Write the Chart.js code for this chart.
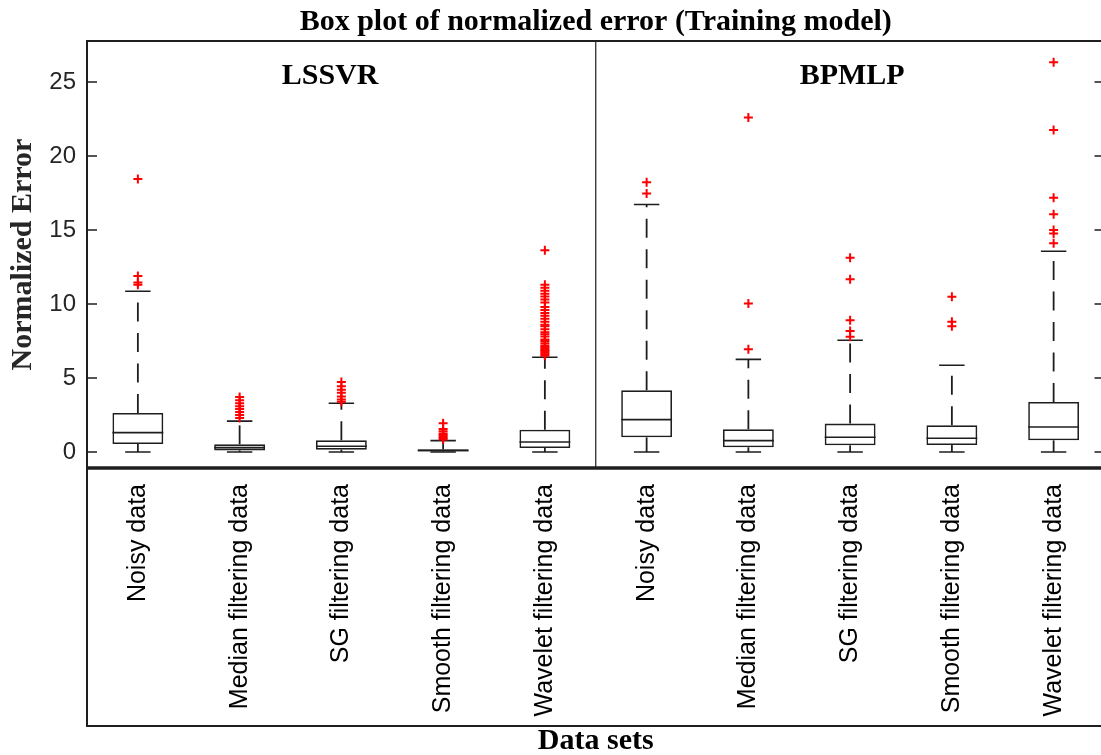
<!DOCTYPE html>
<html>
<head>
<meta charset="utf-8">
<title>Box plot of normalized error</title>
<script src="https://cdn.jsdelivr.net/npm/chart.js@4.4.1/dist/chart.umd.min.js"></script>
<style>
  html, body { margin: 0; padding: 0; background: #fff; overflow: hidden; }
  #wrap { width: 1111px; height: 755px; }
</style>
</head>
<body>
<div id="wrap"><canvas id="box-chart" width="1111" height="755"></canvas></div>
<script>
/* ========= Data ========= */
const categories = [
  'Noisy data', 'Median filtering data', 'SG filtering data', 'Smooth filtering data', 'Wavelet filtering data',
  'Noisy data', 'Median filtering data', 'SG filtering data', 'Smooth filtering data', 'Wavelet filtering data'
];
const modelNames  = ['LSSVR', 'BPMLP'];
const whiskerLow  = [0, 0, 0, 0, 0, 0, 0, 0, 0, 0];
const q1          = [0.54, 0.11, 0.16, 0.03, 0.27, 0.99, 0.32, 0.45, 0.47, 0.79];
const medians     = [1.31, 0.30, 0.39, 0.10, 0.68, 2.19, 0.77, 1.00, 0.93, 1.69];
const q3          = [2.64, 0.52, 0.79, 0.18, 1.51, 4.17, 1.53, 1.92, 1.80, 3.38];
const whiskerHigh = [10.86, 2.09, 3.29, 0.77, 6.40, 16.72, 6.26, 7.55, 5.86, 13.56];
const outliers = [
  [11.3, 11.45, 11.9, 18.45],
  [2.3, 2.5, 2.7, 2.9, 3.1, 3.3, 3.5, 3.72],
  [3.4, 3.55, 3.75, 4.0, 4.2, 4.45, 4.73],
  [0.85, 0.95, 1.05, 1.15, 1.25, 1.4, 1.55, 1.95],
  [6.5, 6.6, 6.7, 6.8, 6.9, 7.0, 7.1, 7.2, 7.35, 7.5, 7.6, 7.8, 7.95, 8.1, 8.3, 8.5,
   8.6, 8.8, 9.0, 9.2, 9.4, 9.6, 9.8, 10.1, 10.3, 10.5, 10.7, 10.9, 11.1, 11.3, 13.63],
  [17.46, 18.22],
  [6.94, 10.03, 22.6],
  [7.79, 8.18, 8.9, 11.67, 13.13],
  [8.5, 8.8, 10.49],
  [14.1, 14.77, 15.0, 16.06, 17.18, 21.76, 26.33]
];
const yTicks = [0, 5, 10, 15, 20, 25];

const outlierPoints = outliers.flatMap((vals, i) => vals.map(v => ({ x: i, y: v })));

/* ========= Plugins ========= */
// whiskers, caps and median lines, drawn right after the boxes
const boxParts = {
  id: 'boxParts',
  afterDatasetDraw(chart, args) {
    if (args.index !== 0) return;
    const { ctx } = chart;
    const x = chart.scales.x, y = chart.scales.y;
    const bars = args.meta.data;
    ctx.save();
    ctx.strokeStyle = '#1e1e1e';
    categories.forEach((_, i) => {
      const cx = x.getPixelForValue(i);
      const half = bars[i].width / 2;
      const cap = half / 2;
      const yQ1 = y.getPixelForValue(q1[i]), yQ3 = y.getPixelForValue(q3[i]);
      const yLo = y.getPixelForValue(whiskerLow[i]), yHi = y.getPixelForValue(whiskerHigh[i]);

      // dashed whiskers, starting from the box
      ctx.lineWidth = 1.8;
      ctx.setLineDash([19, 11.5]);
      ctx.beginPath(); ctx.moveTo(cx, yQ3); ctx.lineTo(cx, yHi); ctx.stroke();
      ctx.beginPath(); ctx.moveTo(cx, yQ1); ctx.lineTo(cx, yLo); ctx.stroke();
      ctx.setLineDash([]);

      // caps
      ctx.lineWidth = 1.6;
      ctx.beginPath();
      ctx.moveTo(cx - cap, yHi); ctx.lineTo(cx + cap, yHi);
      ctx.moveTo(cx - cap, yLo); ctx.lineTo(cx + cap, yLo);
      ctx.stroke();

      // median
      const ym = y.getPixelForValue(medians[i]);
      ctx.beginPath(); ctx.moveTo(cx - half, ym); ctx.lineTo(cx + half, ym); ctx.stroke();
    });
    ctx.restore();
  }
};

// axes frame, inward ticks, panel divider and model names
const frame = {
  id: 'frame',
  afterDraw(chart, args, opts) {
    const { ctx, chartArea: a } = chart;
    const y = chart.scales.y, xv = chart.scales.xv;
    const bottom = chart.scales.x.bottom - 29;
    ctx.save();
    ctx.strokeStyle = '#1e1e1e';

    ctx.lineWidth = 2;
    ctx.strokeRect(a.left, a.top, a.right - a.left, bottom - a.top);
    ctx.lineWidth = 3.5;
    ctx.beginPath(); ctx.moveTo(a.left, a.bottom); ctx.lineTo(a.right, a.bottom); ctx.stroke();

    const xd = xv.getPixelForValue(4.5);
    ctx.lineWidth = 1.2;
    ctx.beginPath(); ctx.moveTo(xd, a.top); ctx.lineTo(xd, a.bottom); ctx.stroke();

    ctx.lineWidth = 1.6;
    yTicks.forEach(v => {
      const py = y.getPixelForValue(v);
      ctx.beginPath();
      ctx.moveTo(a.left, py); ctx.lineTo(a.left + 10, py);
      ctx.moveTo(a.right - 10, py); ctx.lineTo(a.right, py);
      ctx.stroke();
    });

    ctx.fillStyle = '#000';
    ctx.font = 'bold 30px "Liberation Serif", "Times New Roman", serif';
    ctx.textAlign = 'center';
    ctx.textBaseline = 'alphabetic';
    modelNames.forEach((name, k) => {
      ctx.fillText(name, xv.getPixelForValue(opts.labelX[k]), y.getPixelForValue(opts.labelY));
    });
    ctx.restore();
  }
};

/* ========= Chart ========= */
const serif = '"Liberation Serif", "Times New Roman", serif';
const sans  = '"Liberation Sans", Arial, sans-serif';

new Chart(document.getElementById('box-chart'), {
  type: 'bar',
  data: {
    labels: categories,
    datasets: [{
      type: 'bar',
      label: 'Box',
      data: q1.map((v, i) => [v, q3[i]]),
      backgroundColor: 'rgba(255,255,255,0)',
      borderColor: '#1e1e1e',
      borderWidth: 1.6,
      borderSkipped: false,
      grouped: false,
      barPercentage: 0.5,
      categoryPercentage: 1,
      xAxisID: 'x',
      yAxisID: 'y',
      order: 2
    }, {
      type: 'scatter',
      label: 'Outliers',
      data: outlierPoints,
      xAxisID: 'xv',
      yAxisID: 'y',
      pointStyle: 'cross',
      pointRadius: 4.5,
      borderColor: '#ff0000',
      borderWidth: 2,
      order: 1
    }]
  },
  options: {
    responsive: false,
    animation: false,
    devicePixelRatio: 1,
    layout: { padding: { left: 0, right: 2, top: 0, bottom: 0 } },
    plugins: {
      legend: { display: false },
      tooltip: { enabled: false },
      title: {
        display: true,
        text: 'Box plot of normalized error (Training model)',
        fullSize: false,
        color: '#000',
        font: { family: serif, size: 30, weight: 'bold', lineHeight: 1.2 },
        padding: { top: 4, bottom: 1 }
      },
      frame: { labelX: [1.89, 7.02], labelY: 24.86 }
    },
    scales: {
      x: {
        type: 'category',
        grid: { display: false, drawTicks: false, tickLength: 0 },
        border: { display: false },
        ticks: {
          autoSkip: false, minRotation: 90, maxRotation: 90,
          color: '#000', padding: 16,
          font: { family: sans, size: 25 }
        },
        title: {
          display: true, text: 'Data sets', color: '#000',
          font: { family: serif, size: 30, weight: 'bold', lineHeight: 0.93 },
          padding: 0
        },
        afterFit: s => { s.height = 287; }
      },
      xv: {
        type: 'linear', min: -0.5, max: 9.5, display: false, position: 'bottom',
        offset: false, grid: { offset: false }
      },
      y: {
        min: -1.08,
        max: 27.77,
        grid: { display: false, drawTicks: false },
        border: { display: false },
        afterBuildTicks: s => { s.ticks = yTicks.map(v => ({ value: v })); },
        ticks: { color: '#262626', padding: 11, font: { family: sans, size: 24 } },
        title: {
          display: true, text: 'Normalized Error', color: '#262626',
          font: { family: serif, size: 30, weight: 'bold', lineHeight: 1 },
          padding: { top: 8, bottom: 0 }
        },
        afterFit: s => { s.width = 87; }
      }
    }
  },
  plugins: [boxParts, frame]
});
</script>
</body>
</html>
